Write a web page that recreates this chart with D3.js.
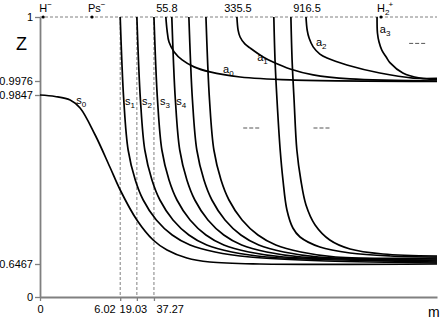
<!DOCTYPE html>
<html>
<head>
<meta charset="utf-8">
<script src="https://cdn.jsdelivr.net/npm/d3@7"></script>
<style>
body { margin: 0; background: #fff; }
text { font-family: "Liberation Sans", Arial, sans-serif; }
</style>
</head>
<body>
<div id="chart"></div>
<script>
// horizontal axis is schematic: u = position along the m axis, 0..100
// Z values on the vertical axis (axis is also piecewise / not to scale)
var zTicks = [0, 0.6467, 0.9847, 0.9976, 1];
var xTickPos = [0, 20.2, 24.4, 28.7];
var xTickLabels = ["0", "6.02", "19.03", "37.27"];
var topPos = [31.7, 49.6, 67.0];
var topLabels = ["55.8", "335.5", "916.5"];
var particlePos = [0.8, 13.1, 85.9];

// s-states (lower band, Z -> 0.6467)
var s0 = [[0,0.9847],[3.8,0.9817],[7.6,0.9747],[10.1,0.9587],[13.9,0.9047],[17.6,0.8407],[20.2,0.7947],[24.4,0.7347],[28.5,0.6947],[32.0,0.6747],[37.0,0.6587],[42.8,0.6507],[55.4,0.6467],[100,0.6467]];
var s1 = [[20.2,1],[20.6,0.99839],[21.1,0.9747],[22.2,0.8747],[24.0,0.8147],[26.0,0.7747],[29.3,0.7347],[33.3,0.7047],[37.8,0.6847],[44.1,0.6707],[52.9,0.6607],[72,0.6527],[100,0.6487]];
var s2 = [[24.4,1],[24.8,0.99839],[25.3,0.9747],[26.4,0.8747],[28.2,0.8147],[30.2,0.7747],[33.5,0.7347],[37.5,0.7047],[42.0,0.6847],[48.3,0.6707],[57.1,0.6607],[76,0.6547],[100,0.6507]];
var s3 = [[28.7,1],[29.1,0.99839],[29.6,0.9747],[30.7,0.8747],[32.5,0.8147],[34.5,0.7747],[37.8,0.7347],[41.8,0.7047],[46.3,0.6847],[52.6,0.6707],[61.4,0.6607],[79,0.6567],[100,0.6527]];
var s4 = [[33.2,1],[33.6,0.99839],[34.1,0.9747],[35.2,0.8747],[37.0,0.8147],[39.0,0.7747],[42.3,0.7347],[46.3,0.7047],[50.8,0.6847],[57.1,0.6707],[65.9,0.6607],[100,0.6547]];
var s5 = [[37.5,1],[37.9,0.99839],[38.4,0.9747],[39.5,0.8747],[41.3,0.8147],[43.3,0.7747],[46.6,0.7347],[50.6,0.7047],[55.1,0.6847],[61.4,0.6707],[70.2,0.6607],[100,0.6567]];
var s6 = [[41.8,1],[42.2,0.99839],[42.7,0.9747],[43.8,0.8747],[45.6,0.8147],[47.6,0.7747],[50.9,0.7347],[54.9,0.7047],[59.4,0.6847],[65.7,0.6707],[74.5,0.6607],[100,0.6587]];
var s7 = [[58.9,1],[59.2,0.99839],[59.7,0.9747],[60.5,0.8747],[61.2,0.8147],[62.2,0.7547],[63.7,0.7187],[65.5,0.7007],[70.5,0.6807],[78.1,0.6687],[88.2,0.6627],[100,0.6607]];
var s8 = [[63.2,1],[63.5,0.99839],[64.0,0.9747],[64.7,0.8747],[65.7,0.8147],[67.0,0.7647],[69.3,0.7247],[73.0,0.6947],[78.1,0.6767],[86.4,0.6667],[100,0.6627]];

// a-states (upper band, Z -> 0.9976)
var a0 = [[31.7,1],[32.0,0.99951],[32.5,0.99906],[33.8,0.99869],[35.8,0.99839],[38.8,0.99813],[42.8,0.99794],[50.4,0.99775],[63.0,0.99764],[100,0.9972]];
var a1 = [[49.6,1],[49.9,0.99951],[50.4,0.99925],[51.6,0.99899],[52.9,0.99884],[56.2,0.9985],[58.7,0.99831],[63.0,0.99805],[68.8,0.99783],[78.1,0.99768],[100,0.99755]];
var a2 = [[67.0,1],[67.3,0.99951],[67.8,0.9992],[68.8,0.99888],[70.5,0.99861],[72.3,0.99846],[77.3,0.9982],[85.6,0.9979],[94.0,0.99771],[100,0.9977]];
var a3 = [[84.9,1],[85.0,0.9994],[85.4,0.99906],[86.1,0.99876],[87.2,0.9985],[88.2,0.99828],[91.4,0.9979],[95.7,0.99771],[100,0.99766]];

var sCurves = [s0, s1, s2, s3, s4, s5, s6, s7, s8];
var aCurves = [a0, a1, a2, a3];

var width = 442, height = 322;
var svg = d3.select("#chart").append("svg")
    .attr("width", width).attr("height", height);

var x = d3.scaleLinear().domain([0, 100]).range([40, 437]);
var y = d3.scaleLinear().domain(zTicks).range([297, 264, 95, 81, 17]);

var gray = "#808080";

// dashed line at Z = 1
svg.append("line")
    .attr("x1", x(0)).attr("x2", x(100))
    .attr("y1", y(1)).attr("y2", y(1))
    .attr("stroke", gray).attr("stroke-width", 1)
    .attr("stroke-dasharray", "3,2");

// dashed verticals at the s thresholds
svg.selectAll(".vline").data(xTickPos.slice(1)).enter().append("line")
    .attr("x1", d => x(d)).attr("x2", d => x(d))
    .attr("y1", y(1)).attr("y2", y(0))
    .attr("stroke", gray).attr("stroke-width", 1)
    .attr("stroke-dasharray", "3,2");

// axes
var yAxis = svg.append("g")
    .attr("transform", `translate(${x(0)},0)`)
    .call(d3.axisLeft(y).tickValues(zTicks).tickFormat(d => String(d))
        .tickSize(5).tickSizeOuter(0).tickPadding(2));
var xAxis = svg.append("g")
    .attr("transform", `translate(0,${y(0)})`)
    .call(d3.axisBottom(x).tickValues(xTickPos).tickFormat((d, i) => xTickLabels[i])
        .tickSize(4).tickSizeOuter(0).tickPadding(4));
[yAxis, xAxis].forEach(g => {
    g.select(".domain").attr("stroke", gray).attr("stroke-width", 1.8);
    g.selectAll(".tick line").attr("stroke", gray).attr("stroke-width", 1.3);
    g.selectAll(".tick text").attr("font-size", 11).attr("fill", "#000")
        .attr("font-family", '"Liberation Sans", Arial, sans-serif');
});
xAxis.selectAll(".tick text")
    .attr("text-anchor", (d, i) => ["middle", "end", "middle", "start"][i])
    .attr("dx", (d, i) => [0, -5, -4, 2][i]);

// curves
var line = d3.line()
    .x(d => x(d[0])).y(d => y(d[1]))
    .curve(d3.curveCatmullRom.alpha(0.5));
svg.selectAll(".curve").data(sCurves.concat(aCurves)).enter().append("path")
    .attr("d", line)
    .attr("fill", "none").attr("stroke", "#000").attr("stroke-width", 1.7);

// labels on curves
var curveLabels = [
    {b: "s", sub: "0", u: 9.1, z: 0.9667},
    {b: "s", sub: "1", u: 21.4, z: 0.9647},
    {b: "s", sub: "2", u: 25.7, z: 0.9647},
    {b: "s", sub: "3", u: 30.2, z: 0.9647},
    {b: "s", sub: "4", u: 34.3, z: 0.9647},
    {b: "a", sub: "0", u: 46.1, z: 0.9979},
    {b: "a", sub: "1", u: 54.7, z: 0.99835},
    {b: "a", sub: "2", u: 69.5, z: 0.99891},
    {b: "a", sub: "3", u: 85.6, z: 0.9994}
];
curveLabels.forEach(l => {
    var t = svg.append("text").attr("x", x(l.u)).attr("y", y(l.z)).attr("font-size", 11);
    t.append("tspan").text(l.b);
    t.append("tspan").attr("font-size", 8).attr("dy", 3).text(l.sub);
});

// "more states" markers
var moreMarks = [[53.2, 0.9187], [70.9, 0.9187], [95.0, 0.99901]];
svg.selectAll(".more").data(moreMarks).enter().append("line")
    .attr("x1", d => x(d[0]) - 8).attr("x2", d => x(d[0]) + 9)
    .attr("y1", d => y(d[1])).attr("y2", d => y(d[1]))
    .attr("stroke", "#555").attr("stroke-width", 1)
    .attr("stroke-dasharray", "4,2");

// top labels
svg.selectAll(".top").data(topPos).enter().append("text")
    .attr("x", d => x(d) + 1).attr("y", 12)
    .attr("text-anchor", "middle").attr("font-size", 11)
    .text((d, i) => topLabels[i]);

// particles on Z = 1
svg.selectAll(".dot").data(particlePos).enter().append("circle")
    .attr("cx", d => x(d)).attr("cy", y(1)).attr("r", 1.6).attr("fill", "#000");
var hm = svg.append("text").attr("x", x(particlePos[0]) - 4).attr("y", 12).attr("font-size", 11);
hm.append("tspan").text("H");
hm.append("tspan").attr("font-size", 8).attr("dy", -5).text("\u2212");
var ps = svg.append("text").attr("x", x(particlePos[1]) - 4).attr("y", 12).attr("font-size", 11);
ps.append("tspan").text("Ps");
ps.append("tspan").attr("font-size", 8).attr("dy", -5).text("\u2212");
var h2 = svg.append("text").attr("x", x(particlePos[2]) - 4).attr("y", 12).attr("font-size", 11);
h2.append("tspan").text("H");
h2.append("tspan").attr("font-size", 8).attr("dy", 3).text("2");
h2.append("tspan").attr("font-size", 8).attr("dx", -1).attr("dy", -8).text("+");

// axis titles
svg.append("text").attr("x", 16).attr("y", 50).attr("font-size", 18).text("Z");
svg.append("text").attr("x", 428).attr("y", 317).attr("font-size", 14).text("m");
</script>
</body>
</html>
